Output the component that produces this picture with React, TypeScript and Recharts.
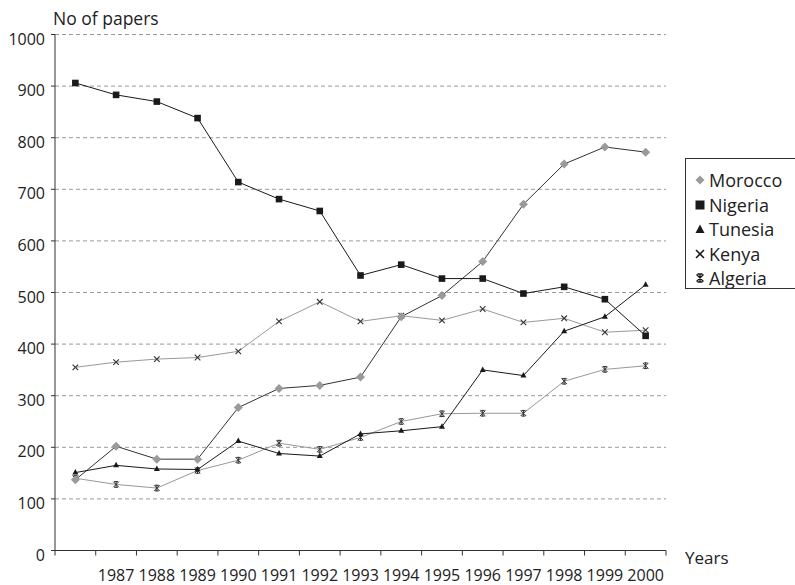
import React from 'react';
import { LineChart, Line, XAxis, YAxis, CartesianGrid, Legend } from 'recharts';

const years = ['1986', '1987', '1988', '1989', '1990', '1991', '1992', '1993', '1994', '1995', '1996', '1997', '1998', '1999', '2000'];
const yearLabels = ['', '1987', '1988', '1989', '1990', '1991', '1992', '1993', '1994', '1995', '1996', '1997', '1998', '1999', '2000'];
const yTicks = [0, 100, 200, 300, 400, 500, 600, 700, 800, 900, 1000];

const morocco = [137, 202, 177, 177, 277, 314, 320, 336, 453, 494, 560, 671, 749, 782, 772];
const nigeria = [906, 883, 870, 838, 714, 681, 658, 533, 554, 527, 527, 498, 511, 487, 416];
const tunesia = [151, 165, 158, 157, 212, 188, 183, 226, 232, 240, 350, 339, 425, 453, 515];
const kenya = [355, 365, 371, 374, 386, 444, 482, 444, 455, 446, 468, 442, 450, 423, 427];
const algeria = [140, 128, 121, 155, 175, 208, 196, 219, 250, 265, 266, 266, 328, 351, 358];

const data = years.map((y, i) => ({
  year: y,
  Morocco: morocco[i],
  Nigeria: nigeria[i],
  Tunesia: tunesia[i],
  Kenya: kenya[i],
  Algeria: algeria[i],
}));

const W = 795;
const H = 585;
const XH = 30;
const MARGIN = { top: 34.5, right: 129, bottom: 34.5 - XH, left: 0 };
const YW = 55;
const BW = (W - MARGIN.left - MARGIN.right - YW) / years.length;
const FONT = '"Open Sans", Lato, sans-serif';
const TEXT = '#222';

const XTick = (props: any) => {
  const { x, y, index } = props;
  const left = x - BW / 2;
  return (
    <g>
      <line x1={left} y1={y} x2={left} y2={y + 5} stroke="#333" strokeWidth={1} />
      {index === years.length - 1 && (
        <line x1={x + BW / 2} y1={y} x2={x + BW / 2} y2={y + 5} stroke="#333" strokeWidth={1} />
      )}
      <text x={x} y={y + 30} textAnchor="middle" fontSize={16} fill={TEXT} fontFamily={FONT}>
        {yearLabels[index]}
      </text>
    </g>
  );
};

const YTick = (props: any) => {
  const { x, y, payload } = props;
  return (
    <text x={x} y={y + 10} textAnchor="end" fontSize={16} fill={TEXT} fontFamily={FONT}>
      {payload.value}
    </text>
  );
};

const diamondDot = (p: any) => {
  const { cx, cy, index } = p;
  const s = 4.5;
  return <path key={`d${index}`} d={`M${cx},${cy - s}L${cx + s},${cy}L${cx},${cy + s}L${cx - s},${cy}Z`} fill="#9a9a9a" />;
};
const squareDot = (p: any) => {
  const { cx, cy, index } = p;
  return <rect key={`s${index}`} x={cx - 3.3} y={cy - 3.3} width={6.6} height={6.6} fill="#1a1a1a" />;
};
const triangleDot = (p: any) => {
  const { cx, cy, index } = p;
  return <path key={`t${index}`} d={`M${cx},${cy - 3.5}L${cx + 3},${cy + 2}L${cx - 3},${cy + 2}Z`} fill="#1a1a1a" />;
};
const xDot = (p: any) => {
  const { cx, cy, index } = p;
  const s = 2.8;
  return (
    <path key={`x${index}`} d={`M${cx - s},${cy - s}L${cx + s},${cy + s}M${cx - s},${cy + s}L${cx + s},${cy - s}`} stroke="#333" strokeWidth={1.1} fill="none" />
  );
};
const starDot = (p: any) => {
  const { cx, cy, index } = p;
  const s = 2.8;
  return (
    <path
      key={`a${index}`}
      d={`M${cx - s},${cy - s}L${cx + s},${cy + s}M${cx - s},${cy + s}L${cx + s},${cy - s}M${cx},${cy - s - 0.5}L${cx},${cy + s + 0.5}M${cx - 2},${cy - s}L${cx + 2},${cy - s}M${cx - 2},${cy + s}L${cx + 2},${cy + s}`}
      stroke="#333"
      strokeWidth={1}
      fill="none"
    />
  );
};

const legendItems = [
  { name: 'Morocco', icon: <path d="M5,0.5L9.5,5L5,9.5L0.5,5Z" fill="#9a9a9a" /> },
  { name: 'Nigeria', icon: <rect x={0.5} y={0.5} width={9} height={9} fill="#1a1a1a" /> },
  { name: 'Tunesia', icon: <path d="M5,0.5L9.5,9L0.5,9Z" fill="#1a1a1a" /> },
  { name: 'Kenya', icon: <path d="M1,1L9,9M1,9L9,1" stroke="#1a1a1a" strokeWidth={1.6} fill="none" /> },
  {
    name: 'Algeria',
    icon: <path d="M1.5,1.5L8.5,8.5M1.5,8.5L8.5,1.5M5,0.5L5,9.5M2.5,1L7.5,1M2.5,9L7.5,9" stroke="#1a1a1a" strokeWidth={1.3} fill="none" />,
  },
];

const renderLegend = () => (
  <div
    style={{
      position: 'absolute',
      left: 0,
      top: 0,
      border: '1px solid #333',
      width: 130,
      height: 131,
      boxSizing: 'border-box',
      paddingTop: 8.75,
      paddingLeft: 9,
      fontFamily: FONT,
      fontSize: 18,
      color: TEXT,
      background: '#fff',
    }}
  >
    {legendItems.map((it) => (
      <div key={it.name} style={{ height: 24.5, display: 'flex', alignItems: 'center', whiteSpace: 'nowrap' }}>
        <svg width={10} height={10} style={{ marginRight: 4, flex: 'none' }}>
          {it.icon}
        </svg>
        <span>{it.name}</span>
      </div>
    ))}
  </div>
);

export default function App() {
  return (
    <div style={{ position: 'absolute', left: 0, top: 0, width: W, height: H, background: '#fff', overflow: 'hidden' }}>
      <LineChart width={W} height={H} data={data} margin={MARGIN}>
        <CartesianGrid horizontal vertical={false} stroke="#999" strokeDasharray="4 3" />
        <XAxis
          dataKey="year"
          height={XH}
          interval={0}
          padding={{ left: BW / 2, right: BW / 2 }}
          tickLine={false}
          tickSize={0}
          tickMargin={0}
          axisLine={{ stroke: '#333' }}
          tick={<XTick />}
        />
        <YAxis
          width={YW}
          domain={[0, 1000]}
          ticks={yTicks}
          interval={0}
          tickSize={4}
          tickMargin={6}
          axisLine={{ stroke: '#333' }}
          tickLine={{ stroke: '#333' }}
          tick={<YTick />}
        />
        <Legend
          content={renderLegend}
          wrapperStyle={{ position: 'absolute', left: 685, top: 158, width: 0, height: 0, overflow: 'visible' }}
        />
        <Line dataKey="Kenya" stroke="#999" strokeWidth={1} dot={xDot} isAnimationActive={false} />
        <Line dataKey="Algeria" stroke="#999" strokeWidth={1} dot={starDot} isAnimationActive={false} />
        <Line dataKey="Morocco" stroke="#333" strokeWidth={1} dot={diamondDot} isAnimationActive={false} />
        <Line dataKey="Tunesia" stroke="#1a1a1a" strokeWidth={1} dot={triangleDot} isAnimationActive={false} />
        <Line dataKey="Nigeria" stroke="#1a1a1a" strokeWidth={1} dot={squareDot} isAnimationActive={false} />
      </LineChart>
      <div style={{ position: 'absolute', left: 53, top: 9.5, fontFamily: FONT, fontSize: 17.5, lineHeight: '17.5px', color: TEXT, whiteSpace: 'nowrap' }}>
        No of papers
      </div>
      <div style={{ position: 'absolute', left: 685, top: 549.4, fontFamily: FONT, fontSize: 17, lineHeight: '17px', color: TEXT, whiteSpace: 'nowrap' }}>
        Years
      </div>
    </div>
  );
}
